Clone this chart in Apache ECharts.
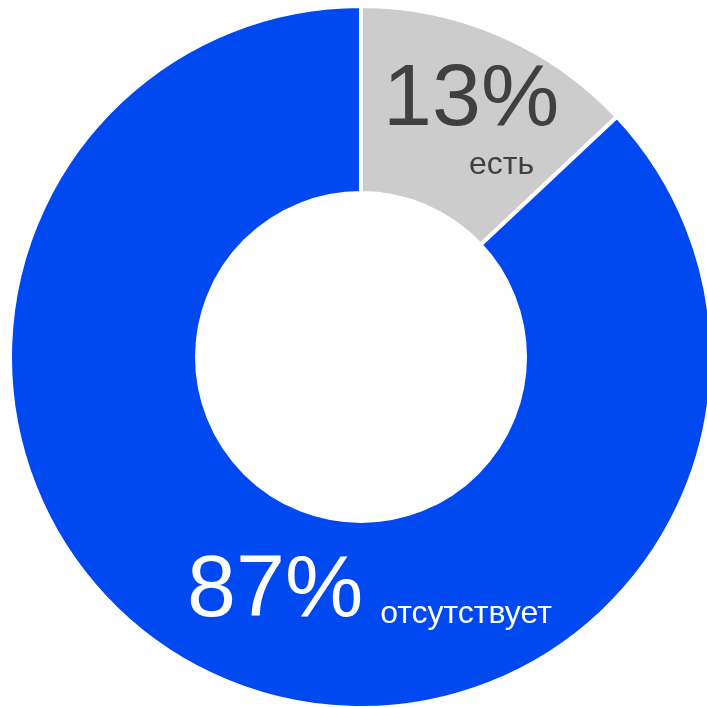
<!DOCTYPE html>
<html>
<head>
<meta charset="utf-8">
<script src="https://cdn.jsdelivr.net/npm/echarts@6/dist/echarts.min.js"></script>
<style>
  html, body { margin: 0; padding: 0; background: #fff; }
  #chart { width: 707px; height: 707px; }
</style>
</head>
<body>
<div id="chart"></div>
<script>
// Share of respondents: has / does not have
const categories = ['есть', 'отсутствует'];
const shares = [13, 87];
const sliceColors = ['#cccccc', '#0048f0'];
const labelColors = ['#404040', '#ffffff'];

const chart = echarts.init(document.getElementById('chart'), null, { renderer: 'canvas' });

const data = categories.map((name, i) => ({
  name: name,
  value: shares[i],
  itemStyle: { color: sliceColors[i] },
  label: {
    color: labelColors[i],
    formatter: i === 0
      ? '{big|{c}%}\n{smallPad|{b}}'
      : '{big|{c}%}{small|{b}}'
  }
}));

// Label anchor points (top-left corner of each label block)
const labelAnchors = [
  { x: 383, y: 54 },
  { x: 187, y: 545 }
];

const FONT = '"Liberation Sans", Arial, sans-serif';

chart.setOption({
  animation: false,
  series: [{
    type: 'pie',
    center: [361, 357],
    radius: [164, 351],
    startAngle: 90,
    clockwise: true,
    avoidLabelOverlap: false,
    itemStyle: { borderColor: '#ffffff', borderWidth: 4 },
    label: {
      show: true,
      position: 'inside',
      fontFamily: FONT,
      rich: {
        big: { fontSize: 88, lineHeight: 94, fontFamily: FONT },
        small: { fontSize: 32, lineHeight: 40, verticalAlign: 'bottom', padding: [0, 0, 9, 17], fontFamily: FONT },
        smallPad: { fontSize: 32, lineHeight: 34, padding: [0, 0, 0, 86], fontFamily: FONT }
      }
    },
    labelLine: { show: false },
    labelLayout: function (params) {
      const a = labelAnchors[params.dataIndex];
      return { x: a.x, y: a.y, align: 'left', verticalAlign: 'top' };
    },
    data: data
  }]
});
</script>
</body>
</html>
